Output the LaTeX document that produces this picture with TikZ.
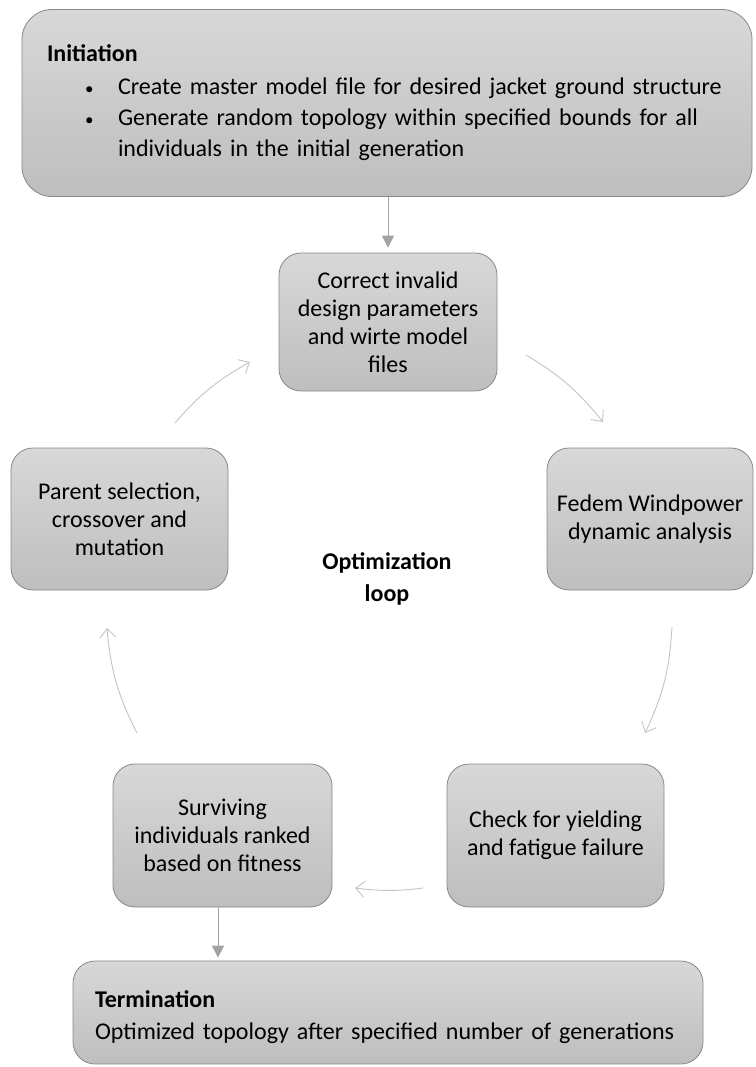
\documentclass[tikz,border=0pt]{standalone}
\usepackage{fontspec}
\setmainfont{Carlito}
\usetikzlibrary{arrows.meta}

\definecolor{boxtop}{HTML}{D8D8D8}
\definecolor{boxbottom}{HTML}{BEBEBE}
\definecolor{boxline}{HTML}{888888}
\definecolor{flowgray}{HTML}{A3A3A3}
\definecolor{loopgray}{HTML}{C4C4C4}

\newcommand{\smallbullet}{\makebox[33pt][l]{\fontsize{17}{17}\selectfont\textbullet}}

\tikzset{
  stage/.style={draw=boxline, line width=0.8pt, rounded corners=22pt,
    top color=boxtop, bottom color=boxbottom, align=center, inner sep=0pt,
    font=\fontsize{24}{28}\selectfont},
  flow/.style={draw=flowgray, line width=1pt, -{Triangle[width=12pt,length=12pt]}},
  loopflow/.style={draw=loopgray, line width=0.9pt, -{Straight Barb[length=9pt,width=16pt]}}
}

\begin{document}
\begin{tikzpicture}[x=1pt,y=-1pt]
        \useasboundingbox (0,0) rectangle (755,1067);

        % Initiation
        \node[stage, rounded corners=30pt, minimum width=730, minimum height=187,
              text width=680, align=left, font=\fontsize{24}{31}\selectfont] (init) at (387,103)
              {\textbf{Initiation}\\[2pt]
               \hspace*{38pt}\smallbullet Create master model file for desired jacket ground structure\\
               \hspace*{38pt}\smallbullet Generate random topology within specified bounds for all\\
               \hspace*{71pt}individuals in the initial generation};

        % Optimization loop boxes
        \node[stage, minimum width=218, minimum height=138] (correct) at (388,322)
              {Correct invalid\\design parameters\\and wirte model\\files};
        \node[stage, minimum width=206, minimum height=142] (fedem) at (650,519)
              {Fedem Windpower\\dynamic analysis};
        \node[stage, minimum width=217, minimum height=143] (check) at (555.5,835.5)
              {Check for yielding\\and fatigue failure};
        \node[stage, minimum width=219, minimum height=143] (surv) at (222.5,835.5)
              {Surviving\\individuals ranked\\based on fitness};
        \node[stage, minimum width=217, minimum height=142] (parent) at (119.5,519)
              {Parent selection,\\crossover and\\mutation};
        \node[align=center, font=\fontsize{24}{32}\selectfont\bfseries] (loop) at (387,579)
              {Optimization\\loop};

        % Termination
        \node[stage, minimum width=630, minimum height=103, text width=586, align=left,
              font=\fontsize{24}{32}\selectfont] (term) at (388,1012.5)
              {\rule{0pt}{27pt}\textbf{Termination}\\Optimized topology after specified number of generations};

        % Straight arrows in and out of the loop
        \draw[flow, shorten >=5pt] (correct.north |- init.south) -- (correct.north);
        \draw[flow, shorten >=3pt] ([xshift=-4.5pt]surv.south) -- ([xshift=-4.5pt]surv.south |- term.north);

        % Loop arrows
        \coordinate (a1s) at (526,355); \coordinate (a1e) at (603,422);
        \coordinate (a2s) at (672,627); \coordinate (a2e) at (645,733);
        \coordinate (a3s) at (423,888); \coordinate (a3e) at (355,888);
        \coordinate (a4s) at (137,733); \coordinate (a4e) at (107,628);
        \coordinate (a5s) at (175,423); \coordinate (a5e) at (250,362);
        \draw[loopflow] (a1s) to[bend left=10] (a1e); % to Fedem
        \draw[loopflow] (a2s) to[bend left=11] (a2e); % to check
        \draw[loopflow] (a3s) to[bend left=7] (a3e);  % to ranking
        \draw[loopflow] (a4s) to[bend left=11] (a4e); % to selection
        \draw[loopflow] (a5s) to[bend left=10] (a5e); % back to correction
\end{tikzpicture}
\end{document}
